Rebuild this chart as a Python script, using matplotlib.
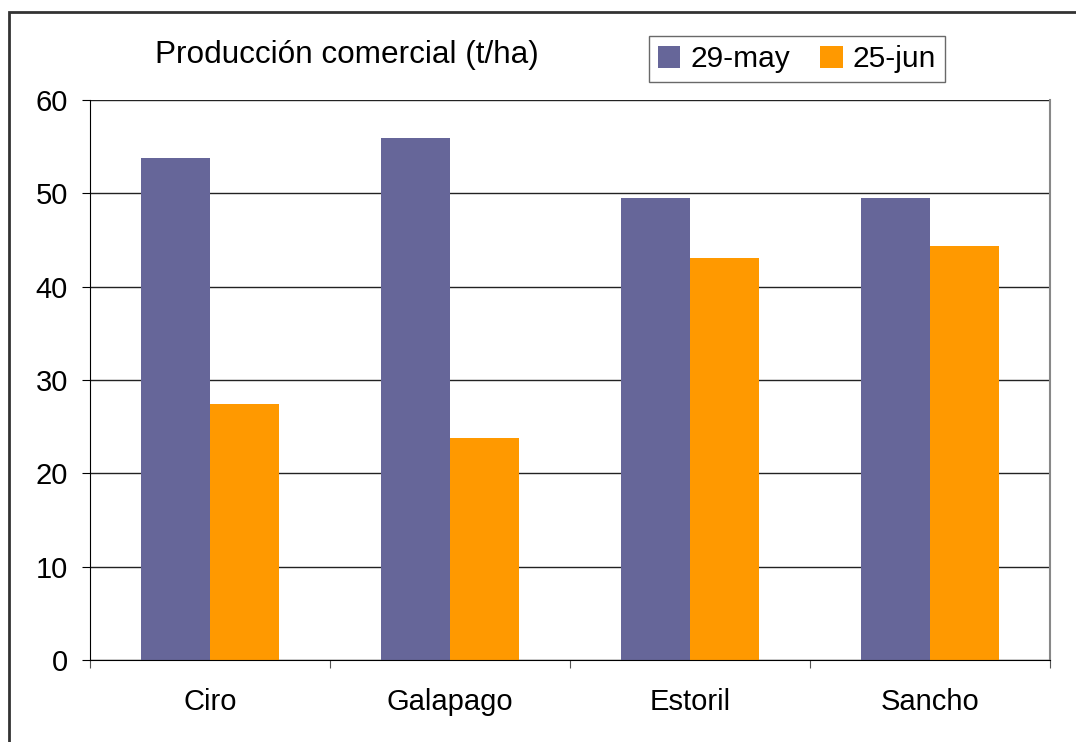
import matplotlib.pyplot as plt
import numpy as np
from matplotlib.patches import Rectangle

plt.rcParams['font.family'] = ['Liberation Sans', 'DejaVu Sans']

variedades = ['Ciro', 'Galapago', 'Estoril', 'Sancho']
serie_may = [53.8, 55.9, 49.5, 49.5]
serie_jun = [27.4, 23.8, 43.1, 44.4]
etiquetas = ['29-may', '25-jun']
colores = ['#666699', '#FF9900']

W, H = 1076, 742
fig = plt.figure(figsize=(W / 100, H / 100), dpi=100)
ax = fig.add_axes([90 / W, 1 - 660 / H, 960 / W, 560 / H])

x = np.arange(len(variedades))
ancho = 0.2875
b1 = ax.bar(x - ancho / 2, serie_may, ancho, color=colores[0], label=etiquetas[0], zorder=2)
b2 = ax.bar(x + ancho / 2, serie_jun, ancho, color=colores[1], label=etiquetas[1], zorder=2)

ax.set_xlim(-0.5, len(variedades) - 0.5)
ax.set_ylim(0, 60)
ax.set_yticks(np.arange(0, 61, 10))
ax.yaxis.grid(True, color='#222222', lw=1.0, zorder=0)
ax.set_axisbelow(True)

# ticks de categoria en los bordes, etiquetas en el centro
ax.set_xticks(np.arange(-0.5, len(variedades)), minor=False)
ax.set_xticklabels([])
ax.set_xticks(x, minor=True)
ax.set_xticklabels(variedades, minor=True, fontsize=21)
ax.tick_params(axis='x', which='minor', length=0, pad=20)
ax.tick_params(axis='x', which='major', length=6, direction='out', color='#555555')
ax.tick_params(axis='y', length=6, direction='out', labelsize=21, pad=10)

ax.spines['top'].set_visible(False)
ax.spines['right'].set_color('#888888')
ax.spines['right'].set_linewidth(1.5)
ax.spines['left'].set_color('black')
ax.spines['bottom'].set_color('black')

fig.text(155 / W, 1 - 63 / H, 'Producción comercial (t/ha)', fontsize=22.7,
         ha='left', va='baseline')

leg = fig.legend(handles=[b1, b2], labels=etiquetas, loc='center',
                 bbox_to_anchor=(797 / W, 1 - 59 / H), ncol=2, fontsize=21.5,
                 frameon=True, fancybox=False, edgecolor='#444444',
                 handlelength=0.75, handleheight=0.75, handletextpad=0.35,
                 columnspacing=1.0, borderpad=0.3, borderaxespad=0)
leg.get_frame().set_linewidth(1.0)

# borde exterior del grafico
fig.patches.append(Rectangle((9 / W, -0.1), 1.2, 1 - 12 / H + 0.1,
                             transform=fig.transFigure, fill=False,
                             edgecolor='#333333', lw=2.0))

fig.savefig('out.png', dpi=100)
